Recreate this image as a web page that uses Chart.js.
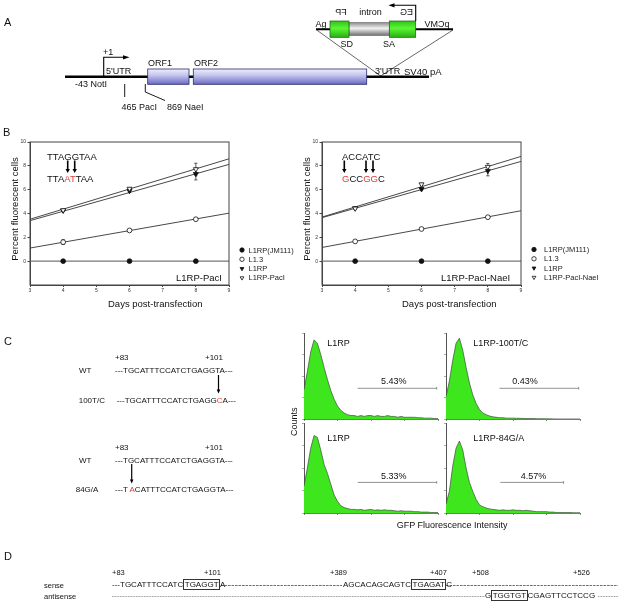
<!DOCTYPE html>
<html>
<head>
<meta charset="utf-8">
<script src="https://cdn.jsdelivr.net/npm/chart.js@4.4.1/dist/chart.umd.min.js"></script>
<style>
  html, body { margin: 0; padding: 0; background: #fff; }
  #page { position: relative; width: 626px; height: 605px; overflow: hidden; font-family: 'Liberation Sans', Arial, sans-serif; color: #111; }
  canvas { position: absolute; }
  #art { position: absolute; left: 0; top: 0; }
  #art text { dominant-baseline: central; fill: #111; }
  .seq { position: absolute; font-size: 8px; line-height: 8px; white-space: pre; color: #111; }
  .box { border: 1px solid #333; padding: 0 0.5px; }
</style>
</head>
<body>
<div id="page">
  <canvas id="bLeft" width="305" height="170" style="left:0;top:125px"></canvas>
  <canvas id="bRight" width="334" height="170" style="left:292px;top:125px"></canvas>
  <canvas id="hTL" width="140" height="95" style="left:300px;top:328px"></canvas>
  <canvas id="hTR" width="140" height="95" style="left:442px;top:328px"></canvas>
  <canvas id="hBL" width="140" height="99" style="left:300px;top:418px"></canvas>
  <canvas id="hBR" width="140" height="99" style="left:442px;top:418px"></canvas>

  <svg id="art" width="626" height="605" viewBox="0 0 626 605" font-family="Liberation Sans, Arial, sans-serif">
    <defs>
      <linearGradient id="orf" x1="0" y1="0" x2="0" y2="1">
        <stop offset="0" stop-color="#efeffc"/>
        <stop offset="0.4" stop-color="#c6c6ef"/>
        <stop offset="1" stop-color="#6a6ac2"/>
      </linearGradient>
      <linearGradient id="gfp" x1="0" y1="0" x2="0" y2="1">
        <stop offset="0" stop-color="#2fc418"/>
        <stop offset="0.45" stop-color="#5cf535"/>
        <stop offset="1" stop-color="#27b014"/>
      </linearGradient>
      <linearGradient id="intr" x1="0" y1="0" x2="0" y2="1">
        <stop offset="0" stop-color="#8c8c8c"/>
        <stop offset="0.45" stop-color="#f2f2f2"/>
        <stop offset="1" stop-color="#6e6e6e"/>
      </linearGradient>
    </defs>

    <!-- panel letters -->
    <text x="4" y="22" font-size="11">A</text>
    <text x="3" y="132" font-size="11">B</text>
    <text x="4" y="341" font-size="11">C</text>
    <text x="4" y="556" font-size="11">D</text>

    <!-- A: construct -->
    <line x1="65" y1="76.7" x2="429" y2="76.7" stroke="#000" stroke-width="2.4"/>
    <rect x="147.7" y="69" width="41.3" height="15.3" fill="url(#orf)" stroke="#2b2b6e" stroke-width="0.8"/>
    <rect x="193.3" y="69" width="173.4" height="15.3" fill="url(#orf)" stroke="#2b2b6e" stroke-width="0.8"/>
    <polyline points="103.7,77 103.7,57.3 124,57.3" fill="none" stroke="#000" stroke-width="1.1"/>
    <polygon points="123,55.2 129.5,57.3 123,59.4" fill="#000"/>
    <line x1="124.7" y1="84" x2="124.7" y2="97" stroke="#000" stroke-width="0.9"/>
    <polyline points="145.3,84 145.3,92 165,100.5" fill="none" stroke="#000" stroke-width="0.9"/>
    <text x="103" y="52" font-size="9">+1</text>
    <text x="106" y="71" font-size="9">5'UTR</text>
    <text x="148" y="63" font-size="9">ORF1</text>
    <text x="194" y="63" font-size="9">ORF2</text>
    <text x="75" y="84" font-size="9">-43 NotI</text>
    <text x="121.5" y="107" font-size="9">465 PacI</text>
    <text x="167" y="107" font-size="9">869 NaeI</text>
    <text x="375" y="71" font-size="9">3'UTR</text>
    <text x="404" y="71" font-size="9.5">SV40 pA</text>

    <line x1="316.7" y1="30" x2="382" y2="77" stroke="#000" stroke-width="0.6"/>
    <line x1="453" y1="30" x2="379" y2="77" stroke="#000" stroke-width="0.6"/>
    <line x1="316" y1="29.3" x2="453" y2="29.3" stroke="#000" stroke-width="2"/>
    <rect x="349" y="22.5" width="40.3" height="13" fill="url(#intr)" stroke="#555" stroke-width="0.5"/>
    <rect x="330" y="21" width="19" height="16.3" fill="url(#gfp)" stroke="#1f5a12" stroke-width="0.7"/>
    <rect x="389.3" y="21" width="26.4" height="16.3" fill="url(#gfp)" stroke="#1f5a12" stroke-width="0.7"/>
    <polyline points="415.7,21 415.7,5.3 394,5.3" fill="none" stroke="#000" stroke-width="1.1"/>
    <polygon points="394.5,3.2 388.5,5.3 394.5,7.4" fill="#000"/>
    <text x="315.5" y="24" font-size="9">Ag</text>
    <text transform="translate(437,24) scale(-1,1)" text-anchor="middle" font-size="9">pCMV</text>
    <text transform="translate(341,12) scale(-1,1)" text-anchor="middle" font-size="9">FP</text>
    <text x="370.5" y="12" text-anchor="middle" font-size="9">intron</text>
    <text transform="translate(406.5,12) scale(-1,1)" text-anchor="middle" font-size="9">EG</text>
    <text x="340.5" y="43.5" font-size="9">SD</text>
    <text x="383" y="43.5" font-size="9">SA</text>

    <!-- B: annotations -->
    <text x="47" y="156" font-size="9.5">TTAGGTAA</text>
    <text x="47" y="178" font-size="9.5">TTA<tspan style="fill:#e23b3b">AT</tspan>TAA</text>
    <line x1="67.7" y1="160.5" x2="67.7" y2="170" stroke="#000" stroke-width="1.6"/>
    <polygon points="65.5,169 69.9,169 67.7,173" fill="#000"/>
    <line x1="74.7" y1="160.5" x2="74.7" y2="170" stroke="#000" stroke-width="1.6"/>
    <polygon points="72.5,169 76.9,169 74.7,173" fill="#000"/>
    <text x="176" y="277" font-size="9.5">L1RP-PacI</text>
    <text x="108" y="303" font-size="9.5">Days post-transfection</text>
    <text transform="translate(14,209) rotate(-90)" text-anchor="middle" font-size="9.5">Percent fluorescent cells</text>

    <text x="342" y="156" font-size="9.5">ACCATC</text>
    <text x="342" y="178" font-size="9.5"><tspan style="fill:#e23b3b">G</tspan>CC<tspan style="fill:#e23b3b">GG</tspan>C</text>
    <line x1="344.3" y1="160.5" x2="344.3" y2="170" stroke="#000" stroke-width="1.6"/>
    <polygon points="342.1,169 346.5,169 344.3,173" fill="#000"/>
    <line x1="366" y1="160.5" x2="366" y2="170" stroke="#000" stroke-width="1.6"/>
    <polygon points="363.8,169 368.2,169 366,173" fill="#000"/>
    <line x1="373" y1="160.5" x2="373" y2="170" stroke="#000" stroke-width="1.6"/>
    <polygon points="370.8,169 375.2,169 373,173" fill="#000"/>
    <text x="441" y="277.5" font-size="9.5">L1RP-PacI-NaeI</text>
    <text x="402" y="303" font-size="9.5">Days post-transfection</text>
    <text transform="translate(306,209) rotate(-90)" text-anchor="middle" font-size="9.5">Percent fluorescent cells</text>

    <!-- C: sequences -->
    <text x="115" y="357.3" font-size="8">+83</text>
    <text x="205" y="357.3" font-size="8">+101</text>
    <text x="79" y="370.7" font-size="8">WT</text>
    <text x="115" y="370.7" font-size="8">---TGCATTTCCATCTGAGGTA---</text>
    <line x1="218.5" y1="375" x2="218.5" y2="390" stroke="#000" stroke-width="1.2"/>
    <polygon points="216.7,389.5 220.3,389.5 218.5,393.5" fill="#000"/>
    <text x="78.7" y="400" font-size="8">100T/C</text>
    <text x="116.7" y="400" font-size="8">---TGCATTTCCATCTGAGG<tspan style="fill:#e23b3b">C</tspan>A---</text>

    <text x="115" y="447.3" font-size="8">+83</text>
    <text x="205" y="447.3" font-size="8">+101</text>
    <text x="79" y="460" font-size="8">WT</text>
    <text x="115" y="460" font-size="8">---TGCATTTCCATCTGAGGTA---</text>
    <line x1="131.7" y1="464" x2="131.7" y2="480" stroke="#000" stroke-width="1.2"/>
    <polygon points="129.9,479.5 133.5,479.5 131.7,483.5" fill="#000"/>
    <text x="75.7" y="489.3" font-size="8">84G/A</text>
    <text x="115" y="489.3" font-size="8">---T <tspan style="fill:#e23b3b">A</tspan>CATTTCCATCTGAGGTA---</text>

    <!-- C: histogram labels -->
    <text x="327.3" y="342.7" font-size="9">L1RP</text>
    <text x="381" y="381" font-size="9">5.43%</text>
    <text x="473.3" y="342.7" font-size="9">L1RP-100T/C</text>
    <text x="512.3" y="381" font-size="9">0.43%</text>
    <text x="327.3" y="438.3" font-size="9">L1RP</text>
    <text x="381" y="475.7" font-size="9">5.33%</text>
    <text x="473.3" y="438.3" font-size="9">L1RP-84G/A</text>
    <text x="520.7" y="475.7" font-size="9">4.57%</text>
    <text transform="translate(293.5,421.7) rotate(-90)" text-anchor="middle" font-size="9">Counts</text>
    <text x="396.7" y="525" font-size="9">GFP Fluorescence Intensity</text>

    <!-- D -->
    <text x="112" y="572" font-size="7.5">+83</text>
    <text x="204" y="572" font-size="7.5">+101</text>
    <text x="330" y="572" font-size="7.5">+389</text>
    <text x="430" y="572" font-size="7.5">+407</text>
    <text x="472" y="572" font-size="7.5">+508</text>
    <text x="573" y="572" font-size="7.5">+526</text>
    <text x="44" y="585" font-size="7.5">sense</text>
    <text x="44" y="596" font-size="7.5">antisense</text>
    <line x1="221" y1="585.5" x2="342" y2="585.5" stroke="#333" stroke-width="0.7" stroke-dasharray="2.6 0.9"/>
    <line x1="446" y1="585.5" x2="618" y2="585.5" stroke="#333" stroke-width="0.7" stroke-dasharray="2.6 0.9"/>
    <line x1="112" y1="596.5" x2="485" y2="596.5" stroke="#555" stroke-width="0.6" stroke-dasharray="1 0.6"/>
    <line x1="598" y1="596.5" x2="618" y2="596.5" stroke="#555" stroke-width="0.6" stroke-dasharray="1 0.6"/>
  </svg>

  <div class="seq" style="left:112px;top:581px">---TGCATTTCCATC<span class="box">TGAGGT</span>A</div>
  <div class="seq" style="left:343px;top:581px">AGCACAGCAGTC<span class="box">TGAGAT</span>C</div>
  <div class="seq" style="left:485px;top:592px">G<span class="box">TGGTGT</span>CGAGTTCCTCCG</div>
</div>

<script>
Chart.defaults.font.family = "'Liberation Sans', Arial, sans-serif";

// ---- panel B: percent fluorescent cells vs days ----
const days = [4, 6, 8];
const fitDays = [3, 9];

const pacNames = ['L1RP(JM111)', 'L1.3', 'L1RP', 'L1RP-PacI'];
const pacJM111 = [0, 0, 0];
const pacL13 = [1.60, 2.58, 3.52];
const pacL1RP = [4.25, 5.90, 7.32];
const pacMut = [4.28, 6.08, 7.72];
const pacL13Err = [0.2, 0.08, 0.12];
const pacL1RPErr = [0.05, 0.1, 0.5];
const pacMutErr = [0.05, 0.1, 0.5];
const pacFitJM111 = [0, 0];
const pacFitL13 = [1.10, 4.03];
const pacFitL1RP = [3.40, 8.12];
const pacFitMut = [3.52, 8.59];

const naeNames = ['L1RP(JM111)', 'L1.3', 'L1RP', 'L1RP-PacI-NaeI'];
const naeJM111 = [0, 0, 0];
const naeL13 = [1.66, 2.70, 3.69];
const naeL1RP = [4.45, 6.05, 7.58];
const naeMut = [4.42, 6.45, 7.92];
const naeL13Err = [0.06, 0.05, 0.12];
const naeL1RPErr = [0.05, 0.1, 0.42];
const naeMutErr = [0.05, 0.1, 0.28];
const naeFitJM111 = [0, 0];
const naeFitL13 = [1.15, 4.23];
const naeFitL1RP = [3.65, 8.37];
const naeFitMut = [3.70, 8.79];

const yTicks = [0, 2, 4, 6, 8, 10];

// ---- panel C: flow histograms (counts per bin, 4 log decades) ----
const histL1RP1 = [34, 55, 78, 92, 88, 75, 60, 46, 33, 23, 15, 10, 7, 5, 4, 4, 3, 4, 3, 4, 4, 3, 4, 3, 3, 4, 3, 3, 2, 3, 2, 2, 2, 2, 1.5, 1.5, 1, 1, 1, 0.5, 0.5];
const hist100TC = [26, 44, 68, 88, 94, 80, 60, 42, 28, 18, 11, 7, 5, 3.5, 2.5, 2, 1.5, 1.5, 1, 1, 1, 0.8, 0.8, 0.6, 0.6, 0.5, 0.5, 0.4, 0.3, 0.3, 0.2, 0.2, 0.1, 0.1, 0, 0, 0, 0, 0, 0, 0];
const histL1RP2 = [30, 50, 72, 86, 84, 70, 54, 44, 32, 20, 13, 8, 6, 5, 4, 4, 3.5, 4, 3, 3.5, 4, 3, 3.5, 3, 3.5, 3, 3, 2.5, 2, 2.5, 2, 2, 2, 1.5, 1.5, 1, 1, 1, 0.5, 0.5, 0.5];
const hist84GA = [10, 24, 52, 72, 80, 70, 50, 34, 24, 15, 9, 7, 5.5, 4.5, 4, 3.5, 3, 3.5, 3, 3, 3.5, 3, 3, 2.5, 3, 2.5, 2, 1.5, 1.5, 1.5, 1.5, 1, 1, 0.5, 0.5, 0.5, 0.5, 0.5, 0.3, 0.3, 0.3];
const gateFrom = [16, 16, 16, 16.2];
const gateTo = [39.6, 39.6, 39.6, 35.1];

const ink = '#222';

const frame = {
  id: 'frame',
  afterDraw(chart) {
    const { ctx, chartArea: a } = chart;
    ctx.save();
    ctx.strokeStyle = '#444';
    ctx.lineWidth = 1;
    ctx.strokeRect(a.left, a.top, a.right - a.left, a.bottom - a.top);
    ctx.restore();
  }
};

const errorBars = {
  id: 'errorBars',
  beforeDatasetsDraw(chart) {
    const { ctx, scales: { x, y } } = chart;
    ctx.save();
    ctx.strokeStyle = '#333';
    ctx.lineWidth = 0.8;
    chart.data.datasets.forEach(ds => {
      if (!ds.errors) return;
      ds.data.forEach((p, k) => {
        const e = ds.errors[k];
        if (!e) return;
        const px = x.getPixelForValue(p.x);
        const top = y.getPixelForValue(p.y + e);
        const bot = y.getPixelForValue(p.y - e);
        ctx.beginPath();
        ctx.moveTo(px, top); ctx.lineTo(px, bot);
        ctx.moveTo(px - 1.6, top); ctx.lineTo(px + 1.6, top);
        ctx.moveTo(px - 1.6, bot); ctx.lineTo(px + 1.6, bot);
        ctx.stroke();
      });
    });
    ctx.restore();
  }
};

// legend sitting to the right of the plot, bottom aligned
const sideLegend = {
  id: 'sideLegend',
  afterDraw(chart, args, opts) {
    const { ctx, chartArea: a } = chart;
    const items = chart.data.datasets.filter(d => d.label);
    ctx.save();
    ctx.font = opts.fontSize + "px 'Liberation Sans', Arial, sans-serif";
    ctx.textBaseline = 'middle';
    items.forEach((ds, i) => {
      const x = a.right + opts.dx;
      const y = a.bottom - opts.bottom + i * opts.gap;
      ctx.fillStyle = ds.backgroundColor;
      ctx.strokeStyle = ds.borderColor;
      ctx.lineWidth = ds.borderWidth;
      Chart.helpers.drawPoint(ctx, {
        pointStyle: ds.pointStyle, rotation: ds.rotation || 0,
        radius: opts.radius, borderWidth: ds.borderWidth
      }, x, y);
      ctx.fillStyle = ink;
      ctx.fillText(ds.label, x + opts.textDx, y + 0.5);
    });
    ctx.restore();
  }
};

function pts(xs, ys) {
  return xs.map((d, k) => ({ x: d, y: ys[k] }));
}

function timeCourse(id, names, series, errs, fits, legendOpts) {
  const marks = [
    { pointStyle: 'circle', rotation: 0, backgroundColor: '#111', radius: 2.4 },
    { pointStyle: 'circle', rotation: 0, backgroundColor: '#fff', radius: 2.4 },
    { pointStyle: 'triangle', rotation: 180, backgroundColor: '#111', radius: 2.9 },
    { pointStyle: 'triangle', rotation: 180, backgroundColor: '#fff', radius: 2.9 }
  ];
  const datasets = [];
  series.forEach((s, i) => {
    datasets.push({
      label: names[i],
      data: pts(days, s),
      errors: errs[i],
      pointStyle: marks[i].pointStyle,
      rotation: marks[i].rotation,
      pointRadius: marks[i].radius,
      backgroundColor: marks[i].backgroundColor,
      borderColor: '#111',
      borderWidth: 0.8,
      showLine: false,
      order: series.length - 1 - i   // later series sit on top
    });
  });
  fits.forEach((f, i) => {
    datasets.push({
      data: pts(fitDays, f),
      showLine: true,
      pointRadius: 0,
      borderColor: i === 0 ? '#777' : '#333',
      borderWidth: i === 0 ? 1.2 : 0.9,
      order: 10
    });
  });
  return new Chart(document.getElementById(id), {
    type: 'scatter',
    data: { datasets },
    options: {
      responsive: false,
      animation: false,
      layout: { padding: { top: 17, right: legendOpts.padRight, left: 0, bottom: 0 } },
      plugins: {
        legend: { display: false },
        tooltip: { enabled: false },
        sideLegend: legendOpts
      },
      scales: {
        x: {
          type: 'linear', min: 3, max: 9,
          afterFit: s => { s.height = 10; },
          border: { color: '#444', width: 1 },
          grid: { drawOnChartArea: false, tickLength: 2, color: '#444' },
          ticks: { stepSize: 1, font: { size: 5 }, color: '#333', padding: 0.5 }
        },
        y: {
          min: -2, max: 10,
          afterFit: s => { s.width = 30; },
          afterBuildTicks: s => { s.ticks = yTicks.map(v => ({ value: v })); },
          border: { color: '#444', width: 1 },
          grid: { drawOnChartArea: false, tickLength: 2.5, color: '#444' },
          ticks: { font: { size: 5 }, color: '#333', padding: 1.5 }
        }
      }
    },
    plugins: [frame, errorBars, sideLegend]
  });
}

timeCourse('bLeft', pacNames,
  [pacJM111, pacL13, pacL1RP, pacMut],
  [null, pacL13Err, pacL1RPErr, pacMutErr],
  [pacFitJM111, pacFitL13, pacFitL1RP, pacFitMut],
  { padRight: 76, dx: 13, textDx: 6.5, bottom: 35, gap: 9.3, radius: 2.2, fontSize: 7.5 });

timeCourse('bRight', naeNames,
  [naeJM111, naeL13, naeL1RP, naeMut],
  [null, naeL13Err, naeL1RPErr, naeMutErr],
  [naeFitJM111, naeFitL13, naeFitL1RP, naeFitMut],
  { padRight: 105, dx: 13, textDx: 10, bottom: 35.5, gap: 9.3, radius: 2.2, fontSize: 7.5 });

// ---- histograms ----
const gate = {
  id: 'gate',
  afterDatasetsDraw(chart, args, opts) {
    const { ctx, scales: { x, y } } = chart;
    const x1 = x.getPixelForValue(opts.from);
    const x2 = x.getPixelForValue(opts.to);
    const py = y.getPixelForValue(opts.level);
    ctx.save();
    ctx.strokeStyle = '#777';
    ctx.lineWidth = 0.8;
    ctx.beginPath();
    ctx.moveTo(x1, py); ctx.lineTo(x2, py);
    ctx.moveTo(x2, py - 1.3); ctx.lineTo(x2, py + 1.3);
    ctx.stroke();
    ctx.restore();
  }
};

function histogram(id, counts, k, level) {
  return new Chart(document.getElementById(id), {
    type: 'line',
    data: {
      datasets: [{
        data: counts.map((c, i) => ({ x: i, y: c })),
        fill: 'origin',
        backgroundColor: '#3ee61e',
        borderColor: '#3f4a3f',
        borderWidth: 0.7,
        pointRadius: 0,
        tension: 0
      }]
    },
    options: {
      responsive: false,
      animation: false,
      layout: { padding: { top: 5, right: 2, left: 0, bottom: 0 } },
      plugins: {
        legend: { display: false },
        tooltip: { enabled: false },
        gate: { from: gateFrom[k], to: gateTo[k], level: level }
      },
      scales: {
        x: {
          type: 'linear', min: 0, max: 40,
          afterFit: s => { s.height = 4; },
          border: { color: '#777', width: 1 },
          grid: { drawOnChartArea: false, tickLength: 2, color: '#888' },
          ticks: { display: false, stepSize: 10 }
        },
        y: {
          min: 0, max: 100,
          afterFit: s => { s.width = 4; },
          border: { color: '#555', width: 1 },
          grid: { drawOnChartArea: false, tickLength: 2, color: '#aaa' },
          ticks: { display: false, stepSize: 25 }
        }
      }
    },
    plugins: [gate]
  });
}

histogram('hTL', histL1RP1, 0, 35.7);
histogram('hTR', hist100TC, 1, 35.7);
histogram('hBL', histL1RP2, 2, 34);
histogram('hBR', hist84GA, 3, 34);
</script>
</body>
</html>
